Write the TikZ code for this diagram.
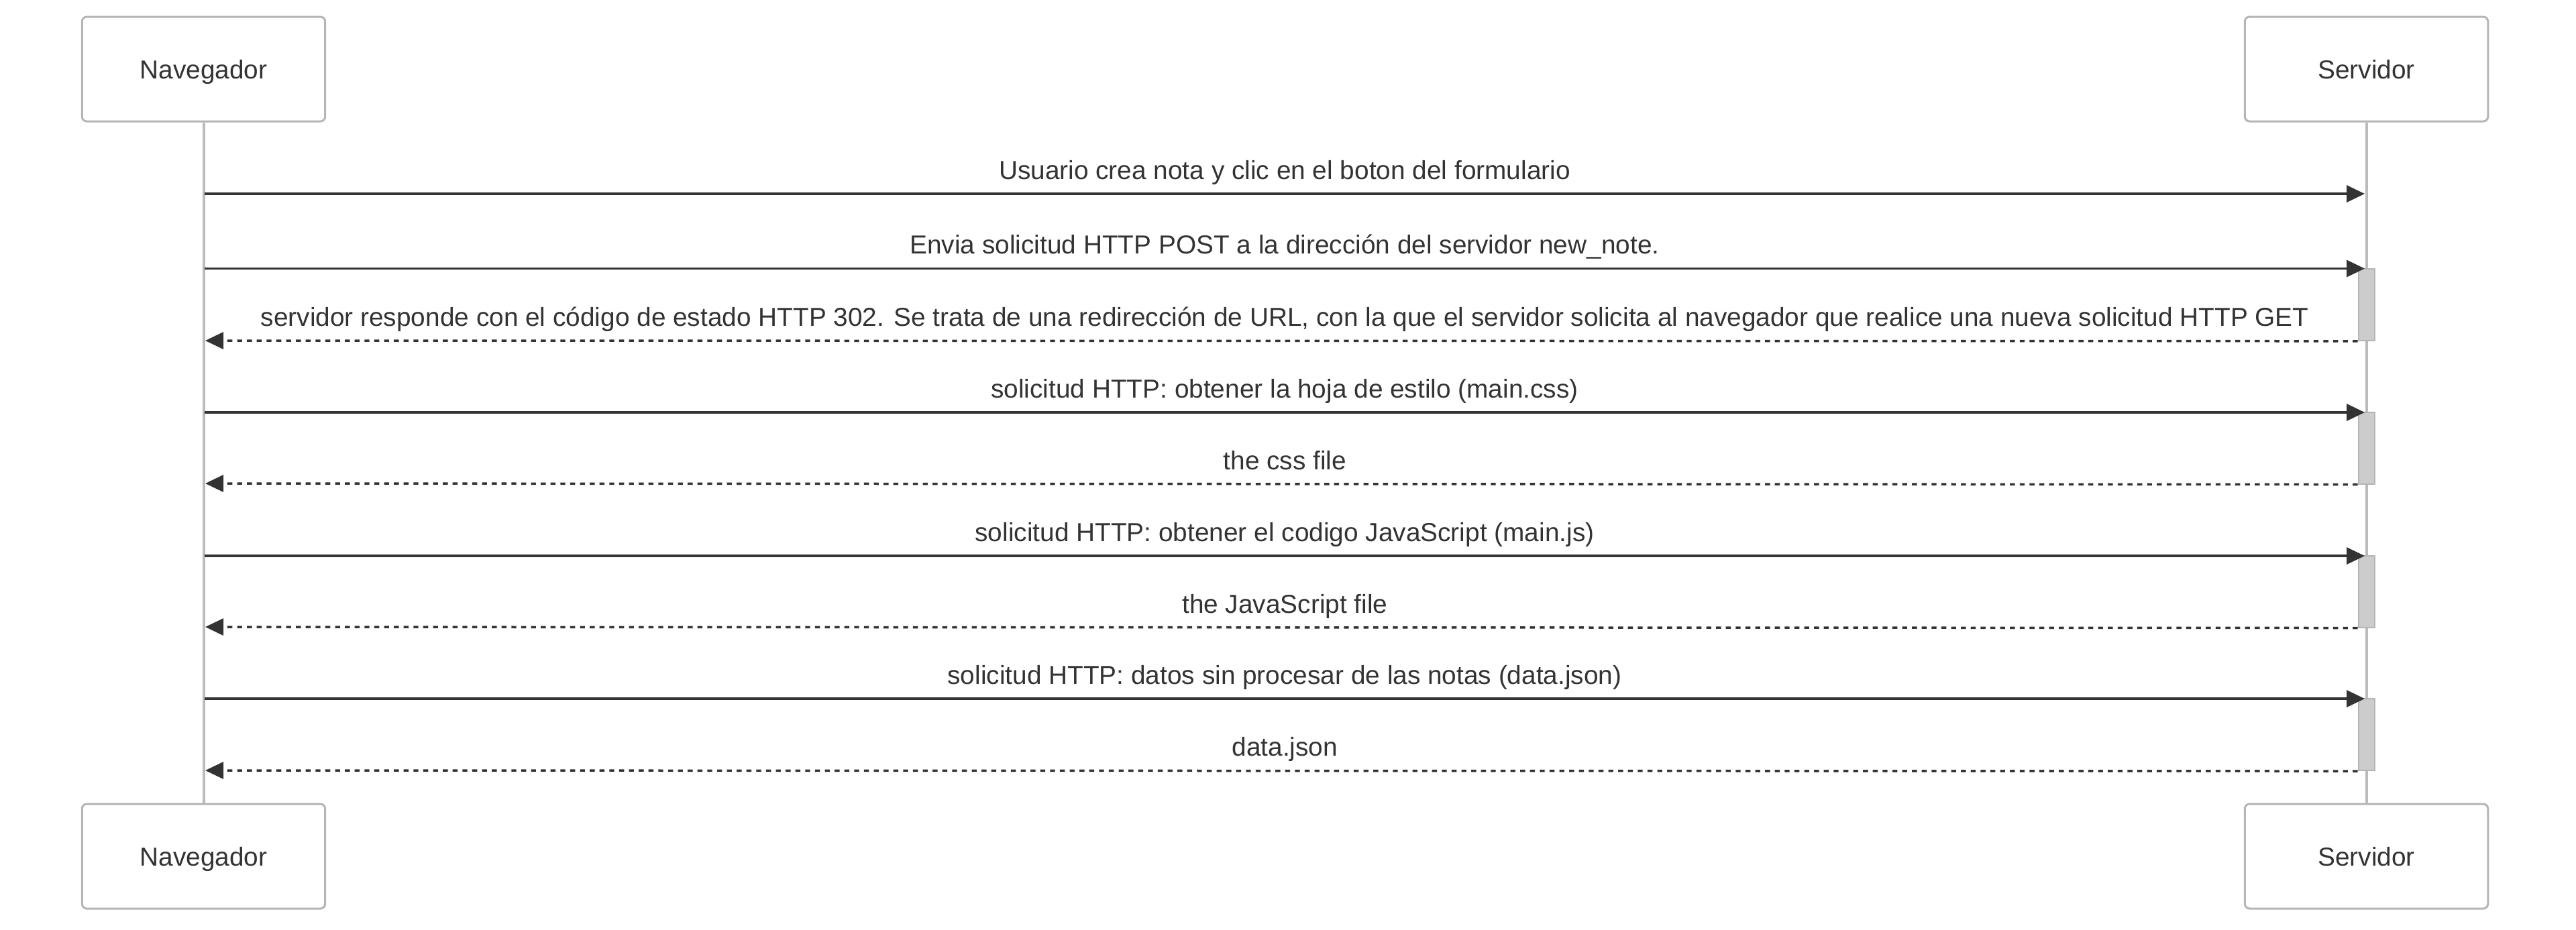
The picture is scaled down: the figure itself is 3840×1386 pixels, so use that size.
\documentclass[tikz,border=0pt]{standalone}
\usepackage{fontspec}
\setmainfont{Liberation Sans}
\usetikzlibrary{arrows.meta}
\definecolor{txt}{HTML}{333333}
\definecolor{boxline}{HTML}{B5B5B5}
\definecolor{lifecol}{HTML}{BBBBBB}
\definecolor{actfill}{HTML}{CCCCCC}
\begin{document}
\begin{tikzpicture}[x=0.25pt,y=-0.25pt,
  actor/.style={draw=boxline, line width=0.75pt, fill=white, rounded corners=1.75pt,
    minimum width=90.6pt, minimum height=39pt, inner sep=0pt, text depth=0pt,
    font=\fontsize{9.7}{11.6}\selectfont, text=txt},
  life/.style={draw=lifecol, line width=1pt},
  act/.style={draw=boxline, fill=actfill, line width=0.5pt, minimum width=6pt,
    minimum height=26.75pt, inner sep=0pt},
  msg/.style={draw=txt, line width=0.875pt, -{Triangle[length=6.75pt,width=6.25pt]}},
  ret/.style={msg, dash pattern=on 1.85pt off 1.8pt},
  lbl/.style={midway, anchor=base, yshift=5.4pt, inner sep=0pt, text=txt,
    font=\fontsize{9.7}{11.6}\selectfont},
  rlbl/.style={lbl, pos=0.4984}]
\useasboundingbox (0,0) rectangle (3840,1386);
% participants
\node[actor] (navT) at (303.5,103) {Navegador};
\node[actor] (srvT) at (3527.5,103) {Servidor};
\node[actor] (navB) at (303.5,1277) {Navegador};
\node[actor] (srvB) at (3527.5,1277) {Servidor};
% lifelines
\draw[life] (navT.south) -- (navB.north);
\draw[life] (srvT.south) -- (srvB.north);
% activations
\node[act] (a1) at (3527.5,454.25) {};
\node[act] (a2) at (3527.5,668) {};
\node[act] (a3) at (3527.5,882) {};
\node[act] (a4) at (3527.5,1095.5) {};
% end points
\coordinate (n1) at (305,289);    \coordinate (s1) at (3525,289);
\coordinate (n2) at (305,400.5);  \coordinate (s2) at (3525,400.5);
\coordinate (n3) at (306,508);
\coordinate (n4) at (305,615);    \coordinate (s4) at (3525,615);
\coordinate (n5) at (306,721);
\coordinate (n6) at (305,829);    \coordinate (s6) at (3525,829);
\coordinate (n7) at (306,935);
\coordinate (n8) at (305,1042);   \coordinate (s8) at (3525,1042);
\coordinate (n9) at (306,1149);
% messages
\draw[msg] (n1) -- node[lbl]{Usuario crea nota y clic en el boton del formulario} (s1);
\draw[msg] (n2) -- node[lbl]{Envia solicitud HTTP POST a la dirección del servidor new\_note.} (s2);
\draw[ret] (a1.south west) -- node[rlbl]{servidor responde con el código de estado HTTP 302. Se trata de una redirección de URL, con la que el servidor solicita al navegador que realice una nueva solicitud HTTP GET} (n3);
\draw[msg] (n4) -- node[lbl]{solicitud HTTP: obtener la hoja de estilo (main.css)} (s4);
\draw[ret] (a2.south west) -- node[rlbl]{the css file} (n5);
\draw[msg] (n6) -- node[lbl]{solicitud HTTP: obtener el codigo JavaScript (main.js)} (s6);
\draw[ret] (a3.south west) -- node[rlbl]{the JavaScript file} (n7);
\draw[msg] (n8) -- node[lbl]{solicitud HTTP: datos sin procesar de las notas (data.json)} (s8);
\draw[ret] (a4.south west) -- node[rlbl]{data.json} (n9);
\end{tikzpicture}
\end{document}
